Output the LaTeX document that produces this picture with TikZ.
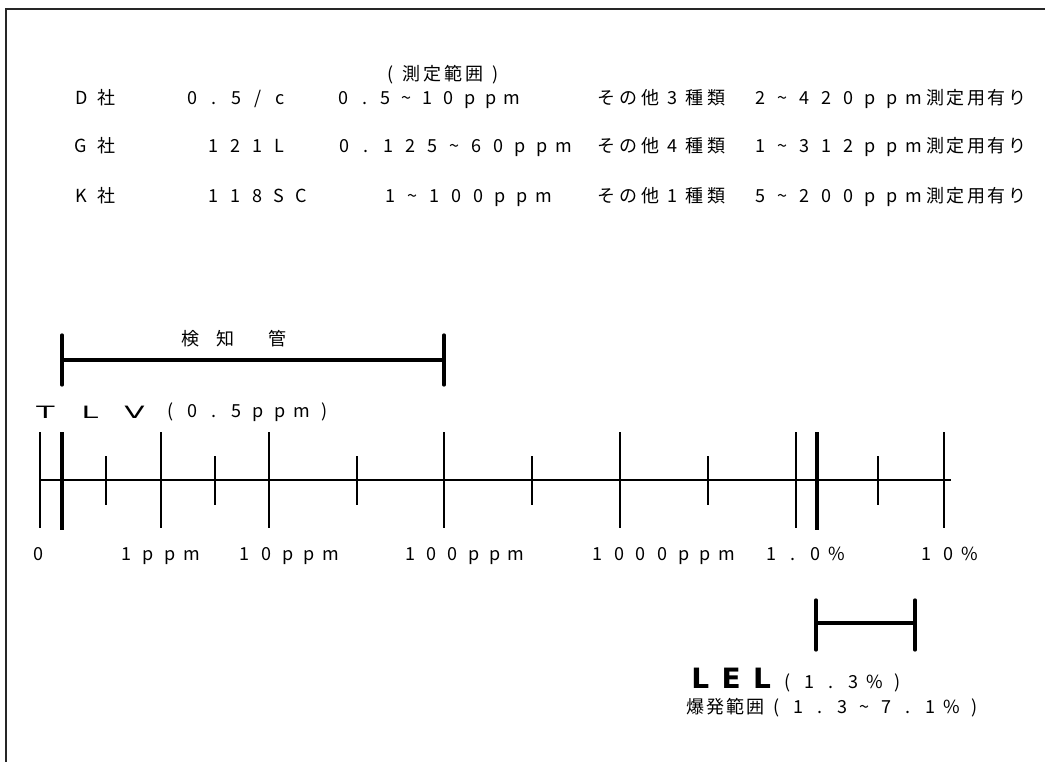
\documentclass[tikz,border=0pt]{standalone}
\usepackage{fontspec}
\usepackage{graphicx}
\setmainfont{Noto Sans CJK JP}
\newfontfamily\lelfont{DejaVu Sans}
\ExplSyntaxOn
\NewDocumentCommand\spaced{O{22pt}m}{\tl_map_inline:nn{#2}{\makebox[#1][c]{##1}}}
\ExplSyntaxOff
\newcommand\wideltr[1]{\scalebox{1.75}[1]{\lelfont\fontsize{17}{18}\selectfont #1}}
\newcommand\tl{\textasciitilde}
\begin{document}
\begin{tikzpicture}[x=1pt,y=-1pt,
  txt/.style={inner sep=0pt,anchor=base west,font=\fontsize{18}{20}\selectfont},
  frameline/.style={line width=2pt,draw=black!85},
  axisline/.style={line width=2.2pt},
  longtick/.style={line width=2.6pt},
  thicktick/.style={line width=3.8pt},
  brk/.style={line width=3.3pt,line cap=round}]
\useasboundingbox (0,0) rectangle (1045,762);
% frame
\draw[frameline] (1047,9.5) -- (5.5,9.5) -- (5.5,764);
% title
\node[txt] (title) at (380,81) {\spaced[21pt]{(測定範囲)}};
% row 1
\node[txt] (d) at (68.5,105) {\spaced[25pt]{D社}};
\node[txt] (dm) at (181,105) {\spaced{0.5/c}};
\node[txt] (dr) at (333,105) {\spaced[21pt]{0.5\tl10ppm}};
\node[txt] (do) at (595,105) {\spaced{その他3種類}};
\node[txt] (de) at (749,105) {\spaced{2\tl420ppm}\spaced[20.5pt]{測定用有り}};
% row 2
\node[txt] (g) at (68.5,153) {\spaced[25pt]{G社}};
\node[txt] (gm) at (202,153) {\spaced{121L}};
\node[txt] (gr) at (333,153) {\spaced{0.125\tl60ppm}};
\node[txt] (go) at (595,153) {\spaced{その他4種類}};
\node[txt] (ge) at (749,153) {\spaced{1\tl312ppm}\spaced[20.5pt]{測定用有り}};
% row 3
\node[txt] (k) at (68.5,203) {\spaced[25pt]{K社}};
\node[txt] (km) at (202,203) {\spaced{118SC}};
\node[txt] (kr) at (379,203) {\spaced{1\tl100ppm}};
\node[txt] (ko) at (595,203) {\spaced{その他1種類}};
\node[txt] (ke) at (749,203) {\spaced{5\tl200ppm}\spaced[20.5pt]{測定用有り}};
% detector tube bracket
\node[txt] (kenchi) at (182,345) {\spaced[17.3pt]{検　知　　管}};
\coordinate (kl) at (62,360);
\coordinate (kr2) at (444,360);
\draw[brk] (62,335) -- (62,385);
\draw[brk] (444,335) -- (444,385);
\draw[brk] (kl) -- (kr2);
% TLV
\node[txt] (tlv) at (23,418) {\makebox[44.5pt]{\wideltr{T}}\makebox[44.5pt]{\wideltr{L}}\makebox[44.5pt]{\wideltr{V}}};
\node[txt] (tlvv) at (159,417) {\spaced{(0.5ppm)}};
% axis
\coordinate (a0) at (40,480);
\coordinate (a1) at (951,480);
\draw[axisline] (a0) -- (a1);
\foreach \x in {40,161,269,444,620,796,944} \draw[longtick] (\x,432) -- (\x,528);
\foreach \x in {62,817} \draw[thicktick] (\x,432) -- (\x,530);
\foreach \x in {106,215,357,532,708,878} \draw[longtick] (\x,456) -- (\x,505);
% axis labels
\node[txt,anchor=base] (l0) at (38,560) {0};
\node[txt] (l1) at (116,560) {\spaced[21.5pt]{1ppm}};
\node[txt] (l10) at (234,560) {\spaced[21.5pt]{10ppm}};
\node[txt] (l100) at (400,560) {\spaced[21pt]{100ppm}};
\node[txt] (l1000) at (587,560) {\spaced[21.5pt]{1000ppm}};
\node[txt] (lp1) at (760,560) {\spaced{1.0\%}};
\node[txt] (lp10) at (915,560) {\spaced{10\%}};
% LEL bracket
\coordinate (el) at (816,623);
\coordinate (er) at (915,623);
\draw[brk] (816,600) -- (816,650);
\draw[brk] (915,600) -- (915,650);
\draw[brk] (el) -- (er);
\node[txt] (lel) at (684.5,688) {\lelfont\bfseries\fontsize{28}{30}\selectfont\spaced[31pt]{LEL}};
\node[txt] (lelv) at (776,688) {\spaced{(1.3\%)}};
\node[txt] (bakuhatsu) at (685,713) {\spaced[20pt]{爆発範囲}\spaced{(1.3\tl7.1\%)}};
\end{tikzpicture}
\end{document}
